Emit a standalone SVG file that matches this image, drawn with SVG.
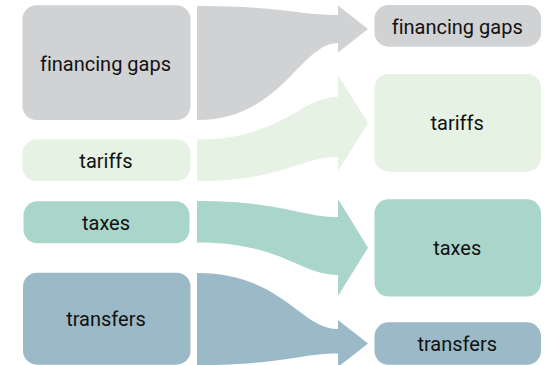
<svg xmlns="http://www.w3.org/2000/svg" width="552" height="365" viewBox="0 0 552 365">
<style>
.lbl{font-family:Roboto,"Liberation Sans",sans-serif;font-size:20px;fill:#111111;text-anchor:middle;font-variant-ligatures:none}
.gray{fill:#d1d2d4}
.green{fill:#e6f2e3}
.teal{fill:#a9d5ca}
.blue{fill:#9bb9c7}
</style>
<rect width="552" height="365" fill="#ffffff"/>
<g id="connectors">
<path class="gray" d="M197,6 C282,6 300,15 338,15 L338,5.5 L368,29 L338,52.5 L338,43 C300,43 282,120 197,120 Z"/>
<path class="green" d="M197,139.5 C282,139.5 300,97 338,97 L338,75 L368,123 L338,171 L338,157 C300,157 282,181 197,181 Z"/>
<path class="teal" d="M197,201 C282,201 300,217 338,217 L338,199 L368,247.7 L338,296 L338,275 C300,275 282,242.5 197,242.5 Z"/>
<path class="blue" d="M197,273 C282,273 300,329 338,329 L338,320 L368,343.5 L338,367 L338,353.5 C300,353.5 282,365 197,365 Z"/>
</g>
<g id="src-financing-gaps">
<rect class="gray" x="22.5" y="5.3" width="168" height="114.7" rx="14"/>
<text class="lbl" x="105.5" y="70.5">financing gaps</text>
</g>
<g id="src-tariffs">
<rect class="green" x="22.5" y="139.5" width="168" height="41.5" rx="14"/>
<text class="lbl" x="106" y="167.5">tariffs</text>
</g>
<g id="src-taxes">
<rect class="teal" x="23.5" y="201.3" width="166" height="42" rx="14"/>
<text class="lbl" x="106" y="229.5">taxes</text>
</g>
<g id="src-transfers">
<rect class="blue" x="23" y="272.7" width="167.5" height="92" rx="14"/>
<text class="lbl" x="106" y="326">transfers</text>
</g>
<g id="dst-financing-gaps">
<rect class="gray" x="374.5" y="5" width="166.5" height="41.7" rx="14"/>
<text class="lbl" x="457.2" y="34">financing gaps</text>
</g>
<g id="dst-tariffs">
<rect class="green" x="374.5" y="74" width="166.5" height="97.7" rx="14"/>
<text class="lbl" x="457.2" y="130">tariffs</text>
</g>
<g id="dst-taxes">
<rect class="teal" x="374.5" y="199.3" width="166.5" height="97.2" rx="14"/>
<text class="lbl" x="457.2" y="254.7">taxes</text>
</g>
<g id="dst-transfers">
<rect class="blue" x="374.5" y="322.3" width="166.5" height="42.5" rx="14"/>
<text class="lbl" x="457.2" y="350.7">transfers</text>
</g>
</svg>
